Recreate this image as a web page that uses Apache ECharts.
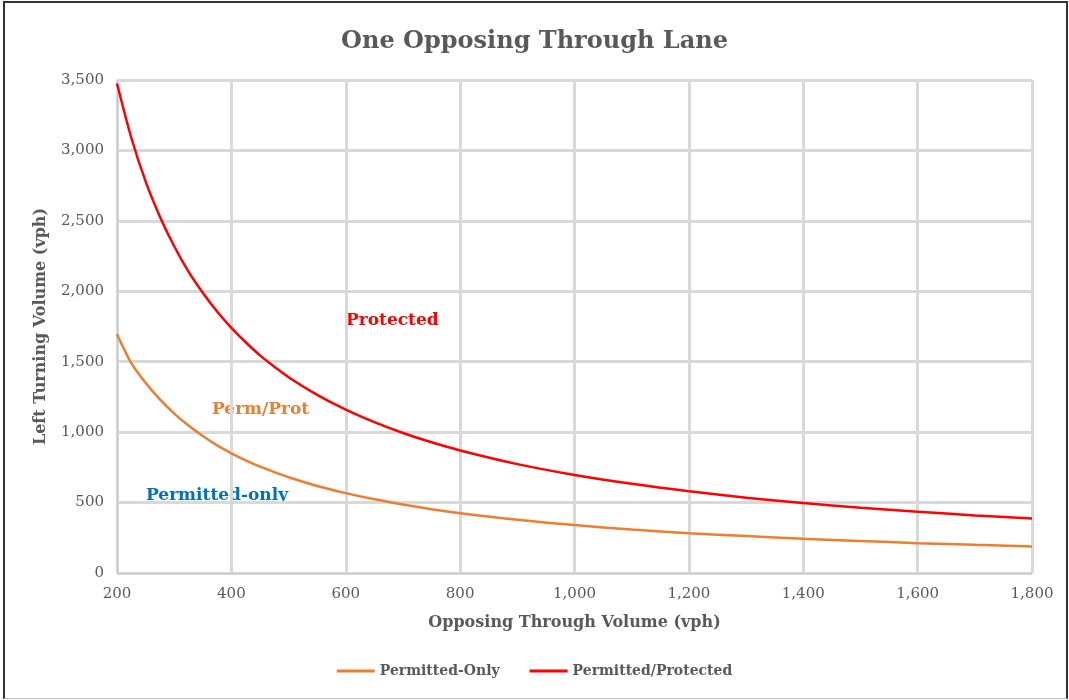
<!DOCTYPE html>
<html>
<head>
<meta charset="utf-8">
<script src="https://cdn.jsdelivr.net/npm/echarts@6/dist/echarts.min.js"></script>
<style>
html, body { margin: 0; padding: 0; background: #fff; }
.frame {
  position: absolute; left: 3px; top: 1px; width: 1061px; height: 695px;
  border-left: 2px solid #333; border-top: 2px solid #333; border-right: 2px solid #333;
  border-bottom: 1px solid #bbb;
}
#main { position: absolute; left: 0; top: 0; width: 1069px; height: 700px; }
</style>
</head>
<body>
<div class="frame"></div>
<div id="main"></div>
<script>
// opposing through volume (vph)
var volumes = [200, 225, 250, 275, 300, 325, 350, 375, 400, 425, 450, 475, 500, 550, 600, 650, 700, 750, 800, 900, 1000, 1100, 1200, 1300, 1400, 1500, 1600, 1700, 1800]
// left turning volume
var permittedOnly = [1695, 1490, 1350, 1232, 1132, 1047, 972, 906, 850, 800, 755, 716, 680, 618, 567, 523, 486, 453, 425, 378, 340, 309, 283, 262, 243, 227, 212, 200, 189]
var permProt = [3475, 3090, 2780, 2530, 2320, 2140, 1990, 1856, 1740, 1638, 1545, 1465, 1390, 1265, 1160, 1071, 994, 928, 870, 773, 696, 633, 580, 535, 497, 464, 435, 409, 387]

var serif = '"DejaVu Serif", "Liberation Serif", serif'
var gray = '#595959'

function pairs (xs, ys) {
  return xs.map(function (x, i) { return [x, ys[i]] })
}

var myChart = echarts.init(document.getElementById('main'))
var option = {
  backgroundColor: 'transparent',
  title: {
    text: 'One Opposing Through Lane',
    left: 'center',
    top: 25,
    textStyle: { fontFamily: serif, fontSize: 24, fontWeight: 'bold', color: gray }
  },
  legend: {
    bottom: 17,
    left: 'center',
    itemWidth: 38,
    itemHeight: 3,
    itemGap: 30,
    icon: 'rect',
    data: ['Permitted-Only', 'Permitted/Protected'],
    textStyle: { fontFamily: serif, fontSize: 14, fontWeight: 'bold', color: gray }
  },
  grid: {
    left: 117,
    right: 37,
    top: 80,
    bottom: 127
  },
  xAxis: {
    type: 'value',
    min: 200,
    max: 1800,
    interval: 200,
    name: 'Opposing Through Volume (vph)',
    nameLocation: 'middle',
    nameGap: 42,
    nameTextStyle: { fontFamily: serif, fontSize: 16, fontWeight: 'bold', color: gray },
    axisLine: { show: true, lineStyle: { color: '#c8c8c8', width: 1 } },
    axisTick: { show: false },
    axisLabel: {
      fontFamily: serif, fontSize: 15, color: gray, margin: 14,
      formatter: function (v) { return v.toLocaleString('en-US') }
    },
    splitLine: { show: true, lineStyle: { color: '#d9d9d9', width: 3 } }
  },
  yAxis: {
    type: 'value',
    min: 0,
    max: 3500,
    interval: 500,
    name: 'Left Turning Volume (vph)',
    nameLocation: 'middle',
    nameGap: 68,
    nameTextStyle: { fontFamily: serif, fontSize: 16, fontWeight: 'bold', color: gray },
    axisLine: { show: true, lineStyle: { color: '#c8c8c8', width: 1 } },
    axisTick: { show: false },
    axisLabel: {
      fontFamily: serif, fontSize: 15, color: gray, margin: 13,
      formatter: function (v) { return v.toLocaleString('en-US') }
    },
    splitLine: { show: true, lineStyle: { color: '#d9d9d9', width: 3 } }
  },
  graphic: [
    {
      type: 'text', left: 346, top: 312,
      style: { text: 'Protected', fill: '#ff0000', font: 'bold 17px ' + serif }
    },
    {
      type: 'text', left: 212, top: 401,
      style: { text: 'Perm/Prot', fill: '#ed7d31', font: 'bold 17px ' + serif }
    },
    {
      type: 'text', left: 146, top: 487,
      style: { text: 'Permitted-only', fill: '#0070c0', font: 'bold 17px ' + serif }
    }
  ],
  series: [
    {
      name: 'Permitted-Only',
      type: 'line',
      smooth: 0.3,
      showSymbol: false,
      lineStyle: { width: 2.5, color: '#ed7d31' },
      itemStyle: { color: '#ed7d31' },
      data: pairs(volumes, permittedOnly)
    },
    {
      name: 'Permitted/Protected',
      type: 'line',
      smooth: 0.3,
      showSymbol: false,
      lineStyle: { width: 2.5, color: '#ff0000' },
      itemStyle: { color: '#ff0000' },
      data: pairs(volumes, permProt)
    }
  ]
}
myChart.setOption(option)
</script>
</body>
</html>
